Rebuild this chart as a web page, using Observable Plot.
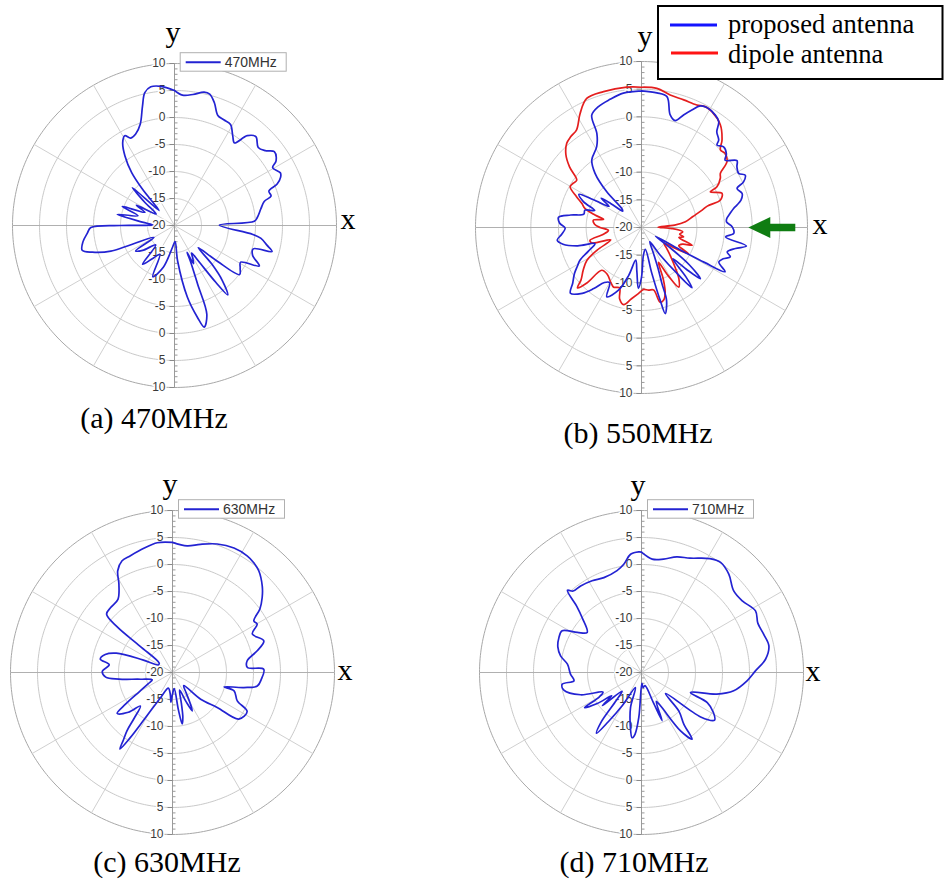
<!DOCTYPE html>
<html><head><meta charset="utf-8">
<script src="https://cdn.jsdelivr.net/npm/d3@7"></script>
<script src="https://cdn.jsdelivr.net/npm/@observablehq/plot@0.6"></script>
<style>
body{margin:0;background:#fff}
#root{position:relative;width:944px;height:881px;overflow:hidden;background:#fff}
#root svg{position:absolute}
</style></head><body><div id="root"></div>
<script>
// ---- data: [angle clockwise from +y axis (deg), level (dB)] ----
const p470 = [[0,5.0],[3.5,4.2],[8,4.5],[12.5,5.3],[15,5.2],[18,3.9],[21.5,1.9],[25,1.6],[29,1.4],[33,-0.2],[36,-1.1],[39,1.4],[42.5,2.3],[47,1.2],[50.5,1.8],[53.5,3.0],[57.5,2.3],[59.5,1.1],[63.5,1.9],[65.5,1.6],[68,0.5],[70,-1.4],[73,-1.3],[75,-2.8],[79,-3.7],[84.5,-4.6],[87,-5.2],[89.5,-11.7],[96.5,-5.4],[98.5,-3.8],[102,-2.5],[105,-1.3],[106.5,-4.8],[111,-4.5],[115.5,-2.6],[119,-6],[123,-5.5],[127,-4.9],[130,-10],[133,-14],[136,-10],[139,-6.5],[142.5,-3.8],[144,-7],[146,-12],[148,-14],[151,-13],[153.5,-12.1],[155,-14.5],[156,-12.8],[158.5,-8.3],[160,-2.5],[163.7,-0.4],[166,-2.5],[169.8,-6.5],[175,-13.4],[178,-17],[185,-16],[195,-12],[203,-9.7],[207,-14],[214,-12.5],[219.5,-10.7],[224,-15],[232,-12.5],[236.8,-11.4],[240,-15.6],[248,-7.3],[252,-4],[255,-2.3],[260,-2.8],[265,-3.8],[268.6,-4.5],[270,-10],[271.5,-16],[276,-14],[281,-9.2],[285,-13],[290,-9.7],[294,-14],[298,-12],[302,-16],[308,-13],[312,-9.5],[314,-16],[316,-15.2],[318.6,-11],[321,-7.4],[324.5,-4.2],[328,-1.9],[331,-1.0],[333.4,-1.9],[337,-1.6],[341.3,-0.2],[345,2.9],[347.4,5.2],[350.3,6.05],[354.4,5.9],[360,5.0]];

const p550proposed = [[0,4.7],[6.5,4.5],[11,4.1],[14.3,1.0],[17.5,0.25],[20.5,1.7],[23.2,3.1],[25.8,4.4],[28.6,4.7],[33.3,4.3],[36.1,3.7],[38.2,2.0],[41.4,1.1],[42.5,0.2],[45.5,0.8],[49.1,0.3],[51.2,-0.6],[55,1.06],[57.5,0.45],[60.9,0.1],[63.2,1.0],[65.9,0.2],[67.8,-1.35],[71.3,-0.8],[74.6,-1.35],[76.8,-2.3],[78.3,-3.0],[81,-3.8],[84,-4.5],[86.2,-4.6],[89.6,-3.6],[93.7,-3.3],[96.4,-4.7],[100,-0.75],[102.6,-2.6],[105.9,-3.9],[108.3,-3.1],[111,-4.2],[114,-4.7],[117.9,-2.9],[119,-7],[120,-12],[122,-17],[125,-14],[128,-9],[131,-5.9],[133,-9],[135,-12],[138,-8],[140,-5.8],[142,-9],[146,-14],[150,-17],[155,-15],[158,-12],[160,-9.2],[161,-6.1],[164.6,-3.85],[165.6,-6.4],[167.3,-11.5],[170,-16],[176,-15],[180,-11],[183,-9],[186,-12],[190,-14],[195,-11],[200,-8],[206.6,-6.0],[210,-8.5],[214,-8],[218,-6],[222,-4],[227.2,-2.5],[231,-4],[235.5,-5.3],[239,-6.5],[242,-7.4],[246,-9.5],[250.9,-11.1],[254,-8],[258,-5.5],[261.5,-4.6],[265,-5.5],[269.5,-6.2],[273,-5.2],[277,-4.9],[280,-7],[283,-9.3],[287,-9.3],[290,-11],[294,-8.5],[298,-7.2],[300,-10],[303,-13],[306,-11],[308,-13],[311,-15.5],[314,-15],[315.8,-11],[319.4,-7.1],[323.6,-4.85],[331,-3.3],[334.6,-1.2],[336.1,2.2],[340.4,3.2],[346.2,3.85],[352.3,4.5],[360,4.7]];

const p550dipole = [[0,5.35],[6.3,5.3],[12.2,4.5],[18.3,4.3],[24.3,4.3],[27.8,4.7],[31.3,4.5],[37.5,3.4],[42.6,1.5],[45.5,0.0],[48.5,0.2],[52.4,-0.5],[55.5,-2.7],[58,-3.2],[61.6,-4.5],[62.6,-6.0],[67,-4.2],[70.8,-4.9],[72,-7.5],[74,-8.6],[78,-10.5],[82.6,-12],[86,-14],[89,-17],[92,-14.5],[96,-12.5],[100,-13],[102.5,-12.2],[105,-13],[109.3,-10.3],[112,-12],[116,-12.5],[119,-10.3],[122,-13],[125,-15],[130,-14],[135,-12.5],[140,-10.5],[144,-8.5],[148,-7.3],[151,-10],[154,-13],[157,-10],[160,-7.5],[163,-6.3],[166,-6.1],[169,-8.5],[173.6,-8.6],[178,-8.8],[183,-8],[188,-7],[193,-5.7],[197,-6.5],[200,-8.4],[205,-8.1],[209,-8.6],[216,-9.5],[222.9,-9.45],[224.5,-6],[226.7,-4.1],[229,-5.5],[234,-7],[239,-8.5],[243,-11],[248,-14],[252.8,-10.6],[256,-10.4],[260,-13],[265,-14],[270,-12.5],[274,-11.5],[278.7,-11.2],[282,-13],[285,-11.3],[288.6,-9.2],[291.9,-8.4],[295.4,-7.0],[299.7,-5.15],[303,-5.3],[306.2,-5.5],[310.1,-3.0],[314,-1.0],[318.4,0.35],[322,0.8],[326.4,1.2],[331.7,3.4],[337,5.35],[344.4,5.5],[354,5.5],[360,5.35]];

const p630 = [[0,4.1],[6.6,3.6],[12.3,4.3],[19.2,5.2],[26.3,5.7],[32.6,5.65],[36.5,5.3],[40.3,4.7],[46,3.1],[50.1,1.65],[54,0.0],[57.6,-2.16],[60.3,-1.95],[64.3,-3.6],[70.9,-2.1],[75.6,-3.8],[81.1,-6.0],[86.2,-6.1],[87.9,-3.1],[94.3,-3.5],[99,-4.1],[101.9,-6.5],[105.6,-10.1],[106.6,-8.1],[113.7,-6.9],[117.6,-4.4],[125.1,-5.0],[128,-9.5],[133.6,-12.8],[139.6,-16.8],[146,-15.5],[150,-13.5],[152.8,-12],[155,-14],[158,-16.5],[164,-14],[167,-11.5],[169.4,-10.3],[171,-13],[174,-17],[180,-16],[183,-14.5],[186,-16],[195,-17],[205,-15],[211,-10],[213,-5.5],[214.5,-2.8],[216,-4.5],[218,-6.3],[220,-9],[223.8,-11.4],[228,-9],[233.5,-7.25],[236,-9.5],[240,-13],[245,-15],[250,-16],[258,-14],[263,-10],[266,-7.6],[271,-7.0],[277,-8.2],[280.5,-6.4],[285,-7.1],[289,-9],[293,-14],[298,-17],[305,-17],[309,-12.3],[309.5,-6.8],[311.5,-3.7],[316.4,-3.4],[323.3,-3.1],[328.7,-0.9],[331.7,1.4],[335.7,2.7],[340.2,3.0],[347,3.6],[353.3,4.2],[360,4.1]];

const p710 = [[0,2.3],[5.4,1.1],[11,1.4],[17,2.4],[23,3.0],[31,4.6],[35.7,5.1],[41.6,4.35],[48.5,2.8],[54.6,2.9],[61.6,4.0],[67,3.4],[72.6,3.7],[78.2,4.1],[83.9,3.1],[89.2,1.1],[94.5,-0.4],[101.2,-2.6],[106,-5.5],[112.2,-10.2],[114.6,-6.6],[119,-4.8],[123.1,-3.85],[126.9,-6.3],[131.2,-14.1],[136,-10],[140.7,-7.6],[142.8,-4.5],[146.2,-7.0],[150.3,-12.9],[153,-14],[156.8,-10.3],[158.5,-14],[165,-17.5],[173.7,-17.2],[178,-18],[183.4,-11.7],[186,-8.5],[188.2,-7.8],[192,-10],[197.4,-13.2],[202,-17],[210,-13],[214,-9],[216.5,-6],[219,-8],[222,-13],[226,-15],[229.7,-10.5],[232,-13],[235,-10],[238.3,-7.6],[240,-11],[243,-12],[249.9,-8],[257.2,-5.25],[261.6,-5.15],[263,-7.4],[268.7,-6.85],[276.4,-6.2],[281.6,-4.7],[287,-3.8],[292.9,-3.4],[297.7,-3.4],[302,-6],[306.4,-7.5],[312.8,-5.0],[315.5,-3],[318,0.5],[320,-0.3],[324.9,-0.4],[331.7,-0.7],[338.4,-1.1],[346.5,-0.6],[350.7,0.3],[354.7,2.0],[358.7,2.35],[360,2.3]];

const ringLevels = [-15, -10, -5, 0, 5, 10];
const spokeAngles = [0, 30, 60, 90, 120, 150, 180, 210, 240, 270, 300, 330];
const topTickLabels = [10, 5, 0, -5, -10, -15, -20];
const bottomTickLabels = [-15, -10, -5, 0, 5, 10];
const captions = ["(a) 470MHz", "(b) 550MHz", "(c) 630MHz", "(d) 710MHz"];
const legendNames = ["proposed antenna", "dipole antenna"];

// ---- styling / layout ----
const BLUE = "#2323d2", RED = "#e41e1e";
const SANS = "'Liberation Sans', Arial, sans-serif";
const SERIF = "'Liberation Serif', 'Times New Roman', serif";
const MIN = -20, MAX = 10, DEG_PER_DB = 2;
const toLon = a => 180 - a;
const toLat = d => 90 - (Math.max(d, MIN) - MIN) * DEG_PER_DB;

const tickLeft = {draw(ctx) { ctx.moveTo(-5, 0); ctx.lineTo(0, 0); }};
const tickRight = {draw(ctx) { ctx.moveTo(0, 0); ctx.lineTo(3, 0); }};
const arrowShape = {draw(ctx) {
  ctx.moveTo(0, 0); ctx.lineTo(22, -10.5); ctx.lineTo(22, -3.8); ctx.lineTo(47, -3.8);
  ctx.lineTo(47, 3.8); ctx.lineTo(22, 3.8); ctx.lineTo(22, 10.5); ctx.closePath();
}};

function polarPanel({cx, cy, R, series, arrowLevel}) {
  const m = 14;
  const size = 2 * R + 2 * m;
  const rings = ringLevels.map(v => ({v, g: d3.geoCircle().center([0, 90]).radius((v - MIN) * DEG_PER_DB).precision(1)()}));
  const minor = [];
  for (let v = MIN + 1; v < MAX; v++) if (v % 5 !== 0) { minor.push({a: 0, v}); minor.push({a: 180, v}); }
  const majors = [...topTickLabels.map(v => ({a: 0, v})), ...bottomTickLabels.map(v => ({a: 180, v}))];
  const marks = [
    Plot.geo(rings, {geometry: d => d.g, fill: "none", stroke: d => d.v === MAX ? "#a8a8a8" : "#c9c9c9", strokeWidth: 1}),
    Plot.link(spokeAngles, {x1: a => toLon(a), y1: () => toLat(MIN), x2: a => toLon(a), y2: () => toLat(MAX),
      stroke: a => a % 90 === 0 ? "#b0b0b0" : "#d0d0d0", strokeWidth: 1}),
    Plot.link([0], {x1: () => toLon(0), y1: () => toLat(MAX), x2: () => toLon(180), y2: () => toLat(MAX), stroke: "#9a9a9a", strokeWidth: 1, curve: "linear"}),
    Plot.dot(minor, {x: d => toLon(d.a), y: d => toLat(d.v), symbol: tickRight, r: 3, fill: "none", stroke: "#9a9a9a", strokeWidth: 1}),
    Plot.text(majors, {x: d => toLon(d.a), y: d => toLat(d.v), text: d => String(d.v), textAnchor: "end", dx: -9,
      fontSize: 12, fontFamily: SANS, fill: "#3a3a3a", stroke: "white", strokeWidth: 3}),
    Plot.dot(majors, {x: d => toLon(d.a), y: d => toLat(d.v), symbol: tickLeft, r: 3, fill: "none", stroke: "#8a8a8a", strokeWidth: 1}),
    ...series.map(s => Plot.line(s.data, {x: d => toLon(d[0]), y: d => toLat(d[1]), stroke: s.color, strokeWidth: 1.7, curve: "catmull-rom", strokeLinejoin: "round"}))
  ];
  if (arrowLevel != null) {
    marks.push(Plot.dot([arrowLevel], {x: () => toLon(90), y: d => toLat(d), symbol: arrowShape, r: 3, fill: "#0f7d12", stroke: "none"}));
  }
  const svg = Plot.plot({
    width: size, height: size, margin: m,
    projection: {type: "azimuthal-equidistant", rotate: [0, -90], clip: false,
      domain: d3.geoCircle().center([0, 90]).radius((MAX - MIN) * DEG_PER_DB).precision(1)(), inset: 0},
    style: {background: "transparent", overflow: "visible"},
    marks
  });
  svg.style.left = (cx - R - m) + "px";
  svg.style.top = (cy - R - m) + "px";
  return svg;
}

const root = document.getElementById("root");
const panels = [
  {cx: 173.7, cy: 224.7, R: 162, series: [{data: p470, color: BLUE}], name: "470MHz"},
  {cx: 641.3, cy: 227.3, R: 166, series: [{data: p550dipole, color: RED}, {data: p550proposed, color: BLUE}], arrowLevel: -0.7},
  {cx: 172, cy: 671.7, R: 162, series: [{data: p630, color: BLUE}], name: "630MHz"},
  {cx: 641, cy: 671.7, R: 162, series: [{data: p710, color: BLUE}], name: "710MHz"}
];
panels.forEach(p => root.appendChild(polarPanel(p)));

// ---- overlay: axis letters, captions, legends ----
const ov = d3.create("svg").attr("width", 944).attr("height", 881).style("left", "0px").style("top", "0px");
const yLab = [[173, 42], [645, 46], [170, 494], [638, 495]];
const xLab = [[348, 229], [820, 234], [345, 680], [813, 681]];
yLab.forEach(([x, y]) => ov.append("text").attr("x", x).attr("y", y).attr("text-anchor", "middle").attr("font-family", SERIF).attr("font-size", 30).text("y"));
xLab.forEach(([x, y]) => ov.append("text").attr("x", x).attr("y", y).attr("text-anchor", "middle").attr("font-family", SERIF).attr("font-size", 30).text("x"));
const capPos = [[154, 428], [638, 443], [167, 872], [634, 872]];
captions.forEach((c, i) => ov.append("text").attr("x", capPos[i][0]).attr("y", capPos[i][1]).attr("text-anchor", "middle")
  .attr("font-family", SERIF).attr("font-size", 30).text(c));

// small legends
panels.forEach(p => {
  if (!p.name) return;
  const g = ov.append("g").attr("transform", `translate(${p.cx + 6},${p.cy - 172.5})`);
  g.append("rect").attr("x", 0.5).attr("y", 0.5).attr("width", 106).attr("height", 18.5).attr("fill", "white").attr("stroke", "#b0b0b0");
  g.append("line").attr("x1", 6).attr("x2", 41).attr("y1", 10).attr("y2", 10).attr("stroke", BLUE).attr("stroke-width", 2);
  g.append("text").attr("x", 45).attr("y", 15.2).attr("font-family", SANS).attr("font-size", 14).attr("fill", "#333").text(p.name);
});

// big legend (b)
const lg = ov.append("g");
lg.append("rect").attr("x", 658).attr("y", 6).attr("width", 284.5).attr("height", 73).attr("fill", "white").attr("stroke", "black").attr("stroke-width", 2);
lg.append("line").attr("x1", 670).attr("x2", 717).attr("y1", 25).attr("y2", 25).attr("stroke", "#1414ff").attr("stroke-width", 3);
lg.append("line").attr("x1", 671).attr("x2", 718).attr("y1", 53).attr("y2", 53).attr("stroke", "#ff1414").attr("stroke-width", 3);
lg.append("text").attr("x", 728).attr("y", 33).attr("font-family", SERIF).attr("font-size", 26.5).text(legendNames[0]);
lg.append("text").attr("x", 728).attr("y", 63).attr("font-family", SERIF).attr("font-size", 26.5).text(legendNames[1]);
root.appendChild(ov.node());
</script></body></html>
